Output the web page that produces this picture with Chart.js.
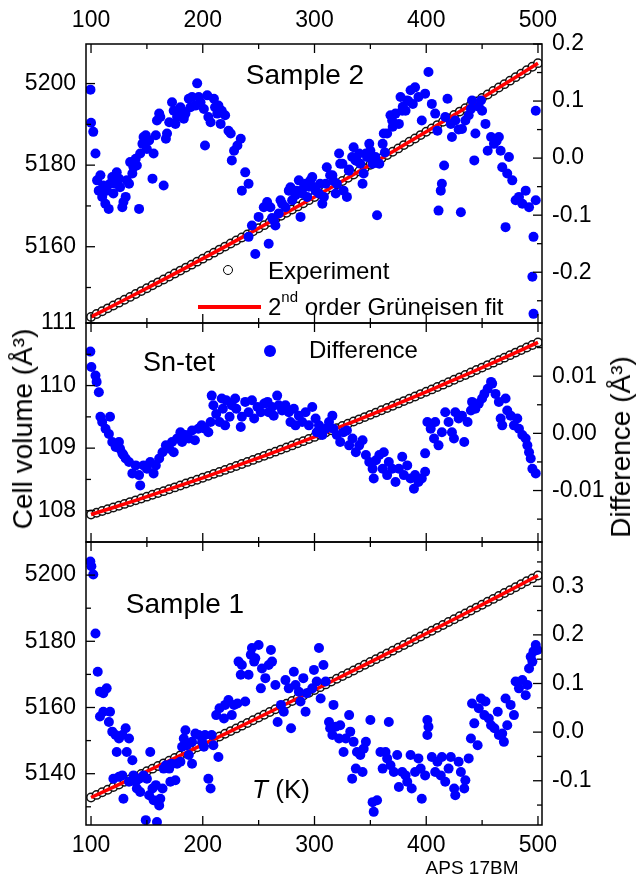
<!DOCTYPE html>
<html>
<head>
<meta charset="utf-8">
<script src="https://cdn.jsdelivr.net/npm/chart.js@4.4.0/dist/chart.umd.min.js"></script>
<style>
  html, body { margin: 0; padding: 0; background: #fff; }
  #wrap { position: relative; width: 636px; height: 879px; overflow: hidden; font-family: "Liberation Sans", Arial, sans-serif; color: #000; }
  canvas { position: absolute; left: 0; top: 0; }
  .t { position: absolute; white-space: nowrap; line-height: 1; }
  .c { transform: translate(-50%, -50%); }
  .l { transform: translateY(-50%); }
  .rot { transform: translate(-50%, -50%) rotate(-90deg); }
</style>
</head>
<body>
<div id="wrap">
  <canvas id="c1" width="636" height="879"></canvas>
  <canvas id="c2" width="636" height="879"></canvas>
  <canvas id="c3" width="636" height="879"></canvas>

  <div class="t c" style="left:305px;top:75px;font-size:28px;">Sample 2</div>
  <div class="t c" style="left:179px;top:362px;font-size:27px;">Sn-tet</div>
  <div class="t c" style="left:185px;top:604px;font-size:28px;">Sample 1</div>
  <div class="t c" style="left:281px;top:789px;font-size:26px;"><i>T</i> (K)</div>
  <div class="t c" style="left:472px;top:867px;font-size:19px;">APS 17BM</div>

  <div class="t rot" style="left:23px;top:429px;font-size:28px;">Cell volume (Å³)</div>
  <div class="t rot" style="left:621px;top:447px;font-size:28px;">Difference (Å³)</div>

  <div style="position:absolute;left:223px;top:265px;width:10px;height:10px;border:1px solid #000;border-radius:50%;box-sizing:border-box;background:#fff;"></div>
  <div class="t l" style="left:268px;top:271px;font-size:24px;">Experiment</div>
  <div style="position:absolute;left:198px;top:305px;width:63px;height:4px;background:#ff0000;"></div>
  <div class="t l" style="left:268px;top:307px;font-size:24px;">2<span style="font-size:15px;position:relative;top:-13px;">nd</span> order Grüneisen fit</div>
  <div style="position:absolute;left:264px;top:345px;width:12px;height:12px;border-radius:50%;background:#0000ff;"></div>
  <div class="t l" style="left:309px;top:350px;font-size:24px;">Difference</div>
</div>

<script>
// ---------------- DATA ----------------
const expT = [100,105,110,115,120,125,130,135,140,145,150,155,160,165,170,175,180,185,190,195,
  200,205,210,215,220,225,230,235,240,245,250,255,260,265,270,275,280,285,290,295,
  300,305,310,315,320,325,330,335,340,345,350,355,360,365,370,375,380,385,390,395,
  400,405,410,415,420,425,430,435,440,445,450,455,460,465,470,475,480,485,490,495,500];

const fitT = [100,120,140,160,180,200,220,240,260,280,300,320,340,360,380,400,420,440,460,480,500];

// Sample 2 (top panel)
const sample2Exp = [5142.80,5143.49,5144.19,5144.89,5145.59,5146.29,5146.99,5147.70,5148.41,5149.12,
  5149.83,5150.55,5151.26,5151.98,5152.70,5153.43,5154.15,5154.88,5155.61,5156.34,
  5157.08,5157.81,5158.55,5159.29,5160.03,5160.78,5161.52,5162.27,5163.02,5163.78,
  5164.53,5165.29,5166.05,5166.81,5167.57,5168.34,5169.11,5169.88,5170.65,5171.42,
  5172.20,5172.98,5173.76,5174.54,5175.33,5176.11,5176.90,5177.69,5178.49,5179.28,
  5180.08,5180.88,5181.68,5182.49,5183.29,5184.10,5184.91,5185.72,5186.54,5187.36,
  5188.18,5189.00,5189.82,5190.64,5191.47,5192.30,5193.13,5193.97,5194.80,5195.64,
  5196.48,5197.32,5198.17,5199.02,5199.86,5200.71,5201.57,5202.42,5203.28,5204.14,5205.00];
const sample2Fit = [5142.80,5145.59,5148.41,5151.26,5154.15,5157.08,5160.03,5163.02,5166.05,5169.11,
  5172.20,5175.33,5178.49,5181.68,5184.91,5188.18,5191.47,5194.80,5198.17,5201.57,5205.00];
const sample2Diff = [[99.5,0.120],[100,0.062],[102,0.046],[104,0.008],[105.4,-0.039],[106.9,-0.057],[108.4,-0.030],[110,-0.068],[111,-0.048],[112.8,-0.080],
  [114,-0.057],[115.8,-0.089],[117,-0.045],[119,-0.033],[120,-0.062],[122,-0.045],[123,-0.025],[125,-0.036],[126,-0.051],[128,-0.086],
  [129,-0.077],[131,-0.068],[132,-0.039],[134,-0.045],[135,-0.007],[137,-0.027],[138,-0.016],[140,-0.001],[141,-0.013],[143,-0.089],
  [144,0.008],[146,0.025],[147,0.037],[149,0.040],[150,0.016],[152,0.031],[155,-0.036],[156,0.008],[158,0.040],[159,0.066],
  [161,0.078],[162,0.072],[165,-0.048],[167,0.034],[168,0.043],[170,0.063],[172.5,0.098],[174,0.083],[175.5,0.060],[177,0.072],
  [180,0.089],[181.5,0.083],[183,0.069],[184.5,0.078],[187.5,0.104],[189,0.089],[190.4,0.107],[193.4,0.092],[195,0.131],[196.4,0.107],
  [198,0.098],[201,0.086],[202,0.022],[204,0.110],[205,0.072],[207,0.063],[210,0.104],[211,0.089],[213,0.078],[214,0.092],
  [216,0.060],[217,0.083],[220,0.075],[223,0.048],[225,0.043],[226,-0.004],[228,0.013],[231,0.022],[234,0.034],[235,-0.057],
  [238,-0.025],[241,-0.045],
  [241,-0.138],[244,-0.118],[247,-0.168],[250,-0.103],[254.6,-0.086],[257.6,-0.077],[259,-0.150],[260.5,-0.086],[262,-0.105],[263.6,-0.109],
  [265,-0.118],[268,-0.097],[269.6,-0.074],[271,-0.080],[274,-0.086],[277,-0.057],[278.5,-0.051],[280,-0.074],[283,-0.065],[284,-0.057],
  [286,-0.039],[287.5,-0.103],[289,-0.062],[290.5,-0.051],[292,-0.045],[293.4,-0.068],[295,-0.050],[296.4,-0.039],[298,-0.033],[299.4,-0.051],
  [301,-0.057],[304,-0.062],[305,-0.045],[307,-0.080],[308.4,-0.068],[310,-0.045],[311,-0.016],[314,-0.030],[316,-0.030],[317,-0.040],
  [319,-0.062],[320,-0.045],[322,0.008],[323,-0.010],[325,-0.010],[326,-0.057],[329,-0.068],[330.7,-0.022],[331,-0.020],[333.7,0.002],
  [335,0.019],[336.7,-0.004],[338,-0.005],[340,0.008],[341,-0.010],[343,-0.045],[344,-0.027],[346,0.008],[347,0.002],[349,0.025],
  [350,0.013],[352,-0.010],[354.6,0.002],[356,-0.100],[358,-0.010],[361,0.025],[362,0.043],[363,0.010],[365,0.043],[368,0.075],
  [369.5,0.066],[370,0.055],[372.5,0.078],[375.5,0.060],[377,0.107],[378.5,0.083],[379,0.090],[381.5,0.083],[383,0.101],[384,0.100],
  [386,0.119],[388,0.095],[390,0.124],[393,0.107],[396,0.066],[399,0.113],[402,0.151],[405,0.095],[408,0.078],[410,0.048],
  [411,-0.092],[413,-0.057],[414,-0.045],[416,-0.013],[417,0.072],[419,0.104],[422,0.060],[423,0.037],[426,0.066],[429,0.050],
  [431,-0.095],[432,0.051],[435,0.066],[438,0.075],[440,0.086],[441,0.101],[443,-0.004],[444,0.043],[447,0.090],[449,0.101],
  [450,0.083],[453,0.060],[455,0.013],[458,0.037],[460.6,0.025],[463,0.030],[465,0.037],[466.6,0.013],[468,-0.016],[471,-0.121],
  [472.5,-0.027],[474,0.002],[477,-0.039],[480,-0.074],[483,-0.068],[486,-0.080],[489,-0.057],[492,-0.086],[495,-0.208],[496,-0.138],
  [498,-0.074],[498,0.083],[496,-0.273]];

// Sn-tet (middle panel)
const sntetExp = [107.940,107.968,107.996,108.024,108.052,108.080,108.109,108.138,108.166,108.195,
  108.225,108.254,108.284,108.313,108.343,108.373,108.404,108.434,108.465,108.495,
  108.526,108.557,108.589,108.620,108.652,108.683,108.715,108.747,108.780,108.812,
  108.845,108.877,108.910,108.944,108.977,109.010,109.044,109.078,109.112,109.146,
  109.180,109.214,109.249,109.284,109.319,109.354,109.389,109.425,109.460,109.496,
  109.532,109.568,109.605,109.641,109.678,109.715,109.752,109.789,109.826,109.864,
  109.901,109.939,109.977,110.015,110.054,110.092,110.131,110.170,110.209,110.248,
  110.287,110.327,110.366,110.406,110.446,110.486,110.527,110.567,110.608,110.649,110.690];
const sntetFit = [107.940,108.052,108.166,108.284,108.404,108.526,108.652,108.780,108.910,109.044,
  109.180,109.319,109.460,109.605,109.752,109.901,110.054,110.209,110.366,110.527,110.690];
const sntetDiff = [[99.4,0.0143],[100.3,0.0116],[104,0.0101],[105,0.0090],[107,0.0072],[108.4,0.0029],[110,0.0020],[113,0.0008],[116,-0.0001],[117,0.0029],
  [119,-0.0015],[122,-0.0024],[125,-0.0015],[126,-0.0027],[128,-0.0035],[129,-0.0038],[131,-0.0044],[134,-0.0050],[137,-0.0070],[140,-0.0056],
  [143,-0.0073],[144,-0.0091],[147,-0.0056],[150,-0.0062],[153,-0.0050],[156,-0.0070],[158,-0.0056],[161,-0.0044],[164,-0.0033],[167,-0.0021],
  [170,-0.0027],[172.5,-0.0015],[174,-0.0033],[177,-0.0009],[180,0.0002],[181.5,-0.0015],[184.5,-0.0003],[187.5,-0.0009],[190.4,0.0005],[193,-0.0012],
  [196,0.0008],[199,0.0014],[202,0.0008],[205,0.0002],[207,0.0020],[208,0.0066],[209.5,0.0049],[212,0.0034],[215,0.0020],[217,0.0061],
  [218,0.0043],[220,0.0014],[221,0.0058],[224,0.0029],[226,0.0049],[229,0.0061],[230,0.0043],[234,0.0011],[235,0.0029],[238,0.0055],
  [241,0.0037],[244,0.0058],[246,0.0026],[249,0.0046],[252,0.0037],[255,0.0052],[258,0.0055],[259,0.0037],[262,0.0046],[263.5,0.0031],
  [266.6,0.0066],[268,0.0049],[271,0.0040],[274,0.0049],[277,0.0037],[278.5,0.0020],[281.5,0.0043],[283,0.0014],[286,0.0031],[289,0.0020],
  [292,0.0037],[295,0.0014],[298,0.0046],[301,0.0026],[302,0.0002],[304,0.0014],[307,-0.0003],[310,0.0008],[313,0.0020],[316,0.0031],
  [317,0.0008],[320,-0.0003],[323,-0.0015],[326,0.0002],[329,0.0005],[331,-0.0021],[334,-0.0009],[337,-0.0033],[340,-0.0021],[343,-0.0012],
  [346,-0.0038],[349,-0.0050],[352,-0.0062],[353,-0.0079],[355,-0.0047],[358,-0.0038],[361,-0.0062],[362,-0.0033],[365,-0.0073],[366.5,-0.0050],
  [369.5,-0.0062],[372.5,-0.0085],[375.5,-0.0062],[378.5,-0.0041],[380,-0.0073],[383,-0.0056],[386,-0.0079],[389,-0.0097],[390,-0.0073],[393,-0.0085],
  [396,-0.0079],[399,-0.0067],[399,-0.0035],[401,0.0020],[404,0.0008],[407,-0.0009],[408,0.0020],[411,-0.0021],[414,0.0002],[417,0.0037],
  [420,0.0020],[423,0.0002],[424.8,-0.0009],[426,0.0037],[429,0.0026],[432,0.0031],[434,-0.0015],[437,0.0020],[440,0.0040],[441,0.0055],
  [444,0.0043],[447,0.0052],[450,0.0061],[452,0.0069],[455,0.0078],[458,0.0090],[459,0.0087],[462,0.0069],[465,0.0055],[466.6,0.0026],
  [468,0.0014],[471,0.0061],[472.5,0.0040],[475.5,0.0031],[478.5,0.0014],[481.5,0.0026],[483,0.0008],[486,-0.0003],[489,-0.0009],[490.5,-0.0021],
  [492,-0.0033],[493.5,-0.0044],[495,-0.0062],[498,-0.0070]];

// Sample 1 (bottom panel)
const sample1Exp = [5132.80,5133.59,5134.38,5135.16,5135.96,5136.75,5137.54,5138.34,5139.13,5139.93,
  5140.73,5141.53,5142.33,5143.13,5143.94,5144.74,5145.55,5146.36,5147.17,5147.98,
  5148.79,5149.60,5150.42,5151.23,5152.05,5152.87,5153.69,5154.51,5155.33,5156.15,
  5156.98,5157.80,5158.63,5159.46,5160.29,5161.12,5161.96,5162.79,5163.63,5164.46,
  5165.30,5166.14,5166.98,5167.82,5168.67,5169.51,5170.36,5171.20,5172.05,5172.90,
  5173.75,5174.61,5175.46,5176.31,5177.17,5178.03,5178.89,5179.75,5180.61,5181.47,
  5182.34,5183.20,5184.07,5184.94,5185.81,5186.68,5187.55,5188.42,5189.30,5190.18,
  5191.05,5191.93,5192.81,5193.69,5194.58,5195.46,5196.35,5197.23,5198.12,5199.01,5199.90];
const sample1Fit = [5132.80,5135.96,5139.13,5142.33,5145.55,5148.79,5152.05,5155.33,5158.63,5161.96,
  5165.30,5168.67,5172.05,5175.46,5178.89,5182.34,5185.81,5189.30,5192.81,5196.35,5199.90];
const sample1Diff = [[99.4,0.351],[100.3,0.341],[102,0.324],[104,0.203],[106,0.124],[108,0.083],[111,0.080],[114,0.090],[108,0.032],[111,0.042],
  [116,0.021],[117,0.042],[119,0.001],[122,-0.006],[125,-0.013],[123,-0.041],[128,-0.006],[131,0.008],[132,-0.041],[134,-0.013],
  [137,-0.058],[120,-0.096],[125,-0.092],[128,-0.089],[129,-0.137],[134,-0.102],[138,-0.089],[140,-0.102],[141,-0.116],[143,-0.096],
  [144,-0.123],[147,-0.089],[149,-0.181],[150,-0.096],[152,-0.130],[153,-0.041],[155,-0.116],[156,-0.140],[158,-0.109],[159,-0.185],
  [161,-0.151],[162,-0.137],[164,-0.116],[165,-0.075],[167,-0.068],[170,-0.075],[171,-0.102],[172,-0.065],[175.5,-0.099],[177,-0.065],
  [180,-0.061],[181.5,-0.030],[183,-0.013],[184.5,0.004],[186,-0.027],[187.5,-0.047],[190.4,-0.065],[190.4,-0.020],[193.4,-0.003],[196.4,-0.006],
  [199.4,-0.020],[201,-0.030],[202,-0.006],[205,-0.096],[207,-0.116],[208,-0.006],[209.5,-0.027],[212,0.035],[214,-0.051],[215,0.049],
  [219,0.028],[220,0.056],[223,0.066],[226,0.035],[228,0.056],[231,0.059],[232,0.145],[234,0.118],[235,0.138],[238,0.063],
  [241,0.118],[243,0.159],[244,0.173],[246,0.145],[247,0.152],[250,0.179],[252,0.090],[253,0.131],[256,0.111],[259,0.138],
  [261,0.169],[262,0.145],[265,0.097],[267,0.021],[270,0.056],[272.5,0.042],[274,0.107],[277,0.090],[279,0.008],[281.5,0.124],
  [283,0.097],[286,0.083],[287.5,0.063],[290,0.111],[292,0.042],[293,0.080],[298,0.090],[299.5,0.128],[302,0.104],[304,0.173],
  [305.5,0.069],[308,0.138],[310,0.104],[313,0.021],[314,0.008],[316,-0.006],[317,0.056],[319,0.011],[322,-0.013],[323,0.014],
  [326,-0.041],[328,-0.013],[331,0.035],[332,0.001],[333.7,-0.096],[335,-0.020],[337,-0.075],[338,-0.041],[341,-0.047],[343,-0.082],
  [344,-0.034],[346,-0.020],[350,0.025],[352,-0.144],[353,-0.164],[356,-0.140],[359,-0.041],[361,-0.075],[363.6,-0.041],[365,-0.054],
  [366.5,0.021],[368,-0.068],[371,-0.082],[374,-0.047],[375.5,-0.113],[378.5,-0.082],[381.5,-0.089],[383,-0.102],[386,-0.047],[387,-0.116],
  [390,-0.082],[393,-0.054],[395,-0.075],[396,-0.137],[399,-0.089],[401,0.025],[402,0.011],[401,-0.006],[405,-0.051],[408,-0.082],
  [410,-0.061],[413,-0.089],[414,-0.051],[417,-0.102],[420,-0.075],[422,-0.051],[425,-0.116],[426,-0.130],[429,-0.061],[431,-0.082],
  [434,-0.116],[435,-0.099],[438,-0.054],[440,-0.013],[441,0.059],[443,0.018],[446,-0.027],[447,0.049],[449,0.069],[452,0.035],
  [453,0.063],[456,0.028],[458,0.014],[461,0.008],[464,0.042],[465,-0.006],[468,-0.003],[469.5,-0.020],[471,0.069],[472.5,0.014],
  [475.5,0.056],[478.5,0.035],[480,0.104],[483,0.090],[486,0.107],[489,0.076],[490.5,0.097],[492,0.131],[493.5,0.155],[495,0.145],
  [496,0.166],[498,0.179],[499.5,0.169]];

// ---------------- DRAWING ----------------
const FONT = '"Liberation Sans", Arial, sans-serif';

const frameTicks = {
  id: 'frameTicks',
  afterDatasetsDraw(chart, args, opts) {
    const { ctx, chartArea: a } = chart;
    ctx.save();
    ctx.strokeStyle = '#000';
    ctx.lineWidth = 1.5;
    ctx.strokeRect(a.left, a.top, a.right - a.left, a.bottom - a.top);
    ctx.lineWidth = 1.3;
    const seg = (x1, y1, x2, y2) => { ctx.beginPath(); ctx.moveTo(x1, y1); ctx.lineTo(x2, y2); ctx.stroke(); };
    for (const t of opts.ticks) {
      const s = chart.scales[t.id];
      const lo = Math.min(s.min, s.max), hi = Math.max(s.min, s.max);
      for (let k = Math.ceil(lo / t.minor - 1e-6); k * t.minor <= hi + 1e-9; k++) {
        const v = k * t.minor;
        const r = v / t.major;
        const len = Math.abs(r - Math.round(r)) < 1e-6 ? 9 : 5;
        const p = s.getPixelForValue(v);
        if (t.side === 'x') { seg(p, a.top, p, a.top + len); seg(p, a.bottom, p, a.bottom - len); }
        else if (t.side === 'left') seg(a.left, p, a.left + len, p);
        else seg(a.right, p, a.right - len, p);
      }
    }
    ctx.restore();
  }
};

function pts(xs, ys) { return xs.map((x, i) => ({ x: x, y: ys[i] })); }
function pairs(arr) { return arr.map(p => ({ x: p[0], y: p[1] })); }

function tickFont() { return { family: FONT, size: 23 }; }

function panel(id, o) {
  return new Chart(document.getElementById(id), {
    type: 'scatter',
    data: {
      datasets: [
        { data: pairs(o.diff), yAxisID: 'yR', pointRadius: 5, pointBorderWidth: 0,
          pointBackgroundColor: '#0000ff', backgroundColor: '#0000ff', borderColor: '#0000ff', clip: 0 },
        { data: pts(fitT, o.fit), yAxisID: 'yL', showLine: true, borderColor: '#ff0000', borderWidth: 3.5,
          pointRadius: 0, fill: false, clip: 0 },
        { data: pts(expT, o.exp), yAxisID: 'yL', pointRadius: 4.2, pointBorderWidth: 1.5,
          pointBackgroundColor: '#ffffff', pointBorderColor: '#111111', clip: 0 }
      ]
    },
    options: {
      responsive: false, animation: false, events: [],
      layout: { padding: o.pad },
      plugins: { legend: { display: false }, tooltip: { enabled: false },
        frameTicks: { ticks: [
          { id: 'x', side: 'x', major: 100, minor: 50 },
          { id: 'yL', side: 'left', major: o.lStep, minor: o.lStep / 2 },
          { id: 'yR', side: 'right', major: o.rStep, minor: o.rStep / 2 }
        ] } },
      scales: {
        x: { type: 'linear', axis: 'x', position: o.xPos, display: o.xShow, min: 95.5, max: 503.6,
          grid: { display: false, drawTicks: false }, border: { display: false },
          ticks: { stepSize: 50, includeBounds: false, font: tickFont(), color: '#000', padding: o.xPad, maxRotation: 0, autoSkip: false,
            callback: v => (Math.round(v) % 100 === 0 ? String(Math.round(v)) : '') },
          afterFit: s => { s.height = o.xH; } },
        yL: { type: 'linear', axis: 'y', position: 'left', min: o.lMin, max: o.lMax,
          grid: { display: false, drawTicks: false }, border: { display: false },
          ticks: { stepSize: o.lStep, includeBounds: false, font: tickFont(), color: '#000', padding: 10,
            callback: v => String(Math.round(v)) },
          afterFit: s => { s.width = 86; } },
        yR: { type: 'linear', axis: 'y', position: 'right', min: o.rMin, max: o.rMax,
          grid: { display: false, drawTicks: false }, border: { display: false },
          ticks: { stepSize: o.rStep, includeBounds: false, font: tickFont(), color: '#000', padding: 10,
            callback: v => Number(v).toFixed(o.rDec) },
          afterFit: s => { s.width = 94; } }
      }
    },
    plugins: [frameTicks]
  });
}

panel('c1', { diff: sample2Diff, fit: sample2Fit, exp: sample2Exp,
  pad: { top: 0, bottom: 556, left: 0, right: 0 }, xPos: 'top', xShow: true, xH: 44, xPad: 10,
  lMin: 5141.3, lMax: 5209.7, lStep: 20, rMin: -0.289, rMax: 0.2, rStep: 0.1, rDec: 1 });

panel('c2', { diff: sntetDiff, fit: sntetFit, exp: sntetExp,
  pad: { top: 323, bottom: 337, left: 0, right: 0 }, xPos: 'bottom', xShow: false, xH: 0, xPad: 0,
  lMin: 107.5, lMax: 111, lStep: 1, rMin: -0.019, rMax: 0.0193, rStep: 0.01, rDec: 2 });

panel('c3', { diff: sample1Diff, fit: sample1Fit, exp: sample1Exp,
  pad: { top: 542, bottom: 0, left: 0, right: 0 }, xPos: 'bottom', xShow: true, xH: 54, xPad: 7,
  lMin: 5124.5, lMax: 5210, lStep: 20, rMin: -0.191, rMax: 0.391, rStep: 0.1, rDec: 1 });
</script>
</body>
</html>
